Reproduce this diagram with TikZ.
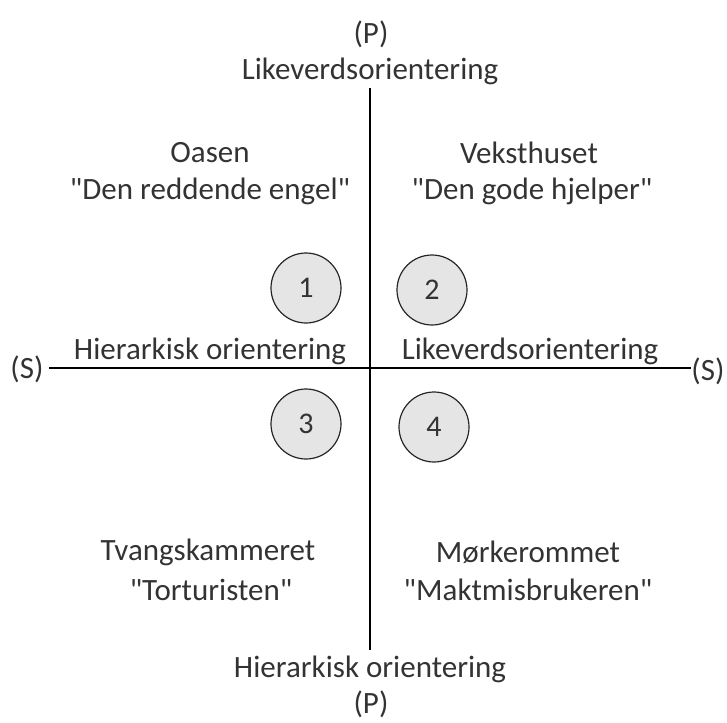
\documentclass[tikz,border=0pt]{standalone}
\usepackage{fontspec}
\setmainfont{Carlito}
\newcommand{\qt}[1]{\textquotedbl#1\textquotedbl}
\tikzset{
  lbl/.style={font=\fontsize{31}{36}\selectfont, text=black!80, inner sep=0pt},
  nrcircle/.style={circle, draw=black!85, fill=black!10, line width=1.2pt, minimum size=70pt, inner sep=0pt, font=\fontsize{30}{34}\selectfont, text=black!80}
}
\begin{document}
\begin{tikzpicture}[x=1pt,y=-1pt]
\useasboundingbox (0,0) rectangle (727,722);
% axes
\coordinate (ptop) at (370,88);
\coordinate (pbot) at (370,650);
\coordinate (sleft) at (49,368);
\coordinate (sright) at (691,368);
\draw[line width=1.5pt] (ptop) -- (pbot);
\draw[line width=2.8pt] (sleft) -- (sright);
% axis labels
\node[lbl] (ptoplbl) at (371,34) {(P)};
\node[lbl] (plike) at (370,71) {Likeverdsorientering};
\node[lbl] (phier) at (370,669) {Hierarkisk orientering};
\node[lbl] (pbotlbl) at (371,704) {(P)};
\node[lbl] (sleftlbl) at (27,369) {(S)};
\node[lbl] (srightlbl) at (708,371) {(S)};
\node[lbl] (shier) at (210,351) {Hierarkisk orientering};
\node[lbl] (slike) at (530,351) {Likeverdsorientering};
% quadrants
\node[lbl] (oasen) at (210,153) {Oasen};
\node[lbl] (oasensub) at (210,191) {\qt{Den reddende engel}};
\node[lbl] (vekst) at (529,153) {Veksthuset};
\node[lbl] (vekstsub) at (532,191) {\qt{Den gode hjelper}};
\node[lbl] (tvang) at (208,552) {Tvangskammeret};
\node[lbl] (tvangsub) at (211,590) {\qt{Torturisten}};
\node[lbl] (morke) at (528,552) {Mørkerommet};
\node[lbl] (morkesub) at (528,590) {\qt{Maktmisbrukeren}};
% numbered circles
\node[nrcircle] (c1) at (306,288) {1};
\node[nrcircle] (c2) at (432,290) {2};
\node[nrcircle] (c3) at (306,424) {3};
\node[nrcircle] (c4) at (434,427) {4};
\end{tikzpicture}
\end{document}
